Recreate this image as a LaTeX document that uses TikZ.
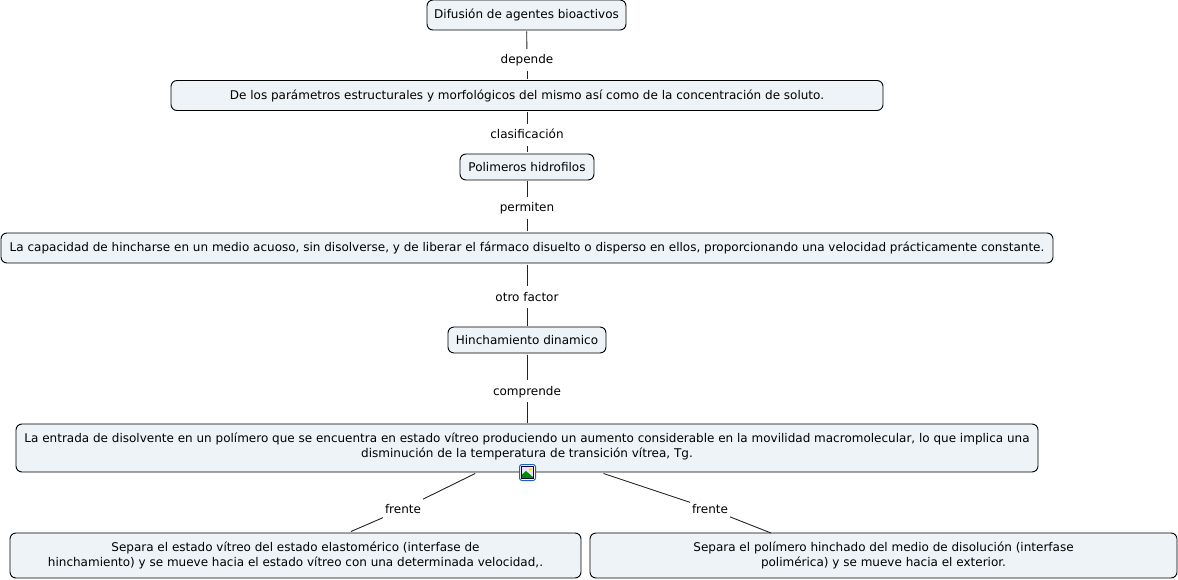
\documentclass[tikz,border=0pt]{standalone}
\usepackage{fontspec}
\setmainfont{DejaVu Sans}
\definecolor{boxfill}{HTML}{EDF3F6}
\definecolor{linkgray}{HTML}{222222}
\definecolor{iconblue}{HTML}{1F5FBF}

\begin{document}
\begin{tikzpicture}[
    x=1pt, y=-1pt,
    every node/.style={font=\fontsize{12}{15}\selectfont, text=black},
    concept/.style={draw=black, fill=boxfill, rounded corners=6pt, line width=0.9pt,
                    align=center, inner sep=0pt, outer sep=1.5pt},
    linkword/.style={inner sep=1pt, outer sep=2pt, text height=10pt, text depth=2pt, minimum height=18pt},
    link/.style={draw=linkgray, line width=0.9pt}
]
\useasboundingbox (0,0) rectangle (1178,580);

% Concepts, top to bottom
\node[concept, minimum width=199pt, minimum height=30pt] (difusion) at (526.5,15) {Difusión de agentes bioactivos};
\node[concept, minimum width=712pt, minimum height=30pt] (parametros) at (527,95.5) {De los parámetros estructurales y morfológicos del mismo así como de la concentración de soluto.};
\node[concept, minimum width=134pt, minimum height=26pt] (polimeros) at (527,167) {Polimeros hidrofilos};
\node[concept, minimum width=1052pt, minimum height=30pt] (capacidad) at (527,248) {La capacidad de hincharse en un medio acuoso, sin disolverse, y de liberar el fármaco disuelto o disperso en ellos, proporcionando una velocidad prácticamente constante.};
\node[concept, minimum width=158pt, minimum height=26pt] (hinchamiento) at (527,340) {Hinchamiento dinamico};
\node[concept, minimum width=1022pt, minimum height=48pt] (entrada) at (527,448) {La entrada de disolvente en un polímero que se encuentra en estado vítreo produciendo un aumento considerable en la movilidad macromolecular, lo que implica una\\disminución de la temperatura de transición vítrea, Tg.\\[-10pt]};
\node[concept, minimum width=571pt, minimum height=45pt] (vitreo) at (295.5,555.5) {Separa el estado vítreo del estado elastomérico (interfase de\\hinchamiento) y se mueve hacia el estado vítreo con una determinada velocidad,.};
\node[concept, minimum width=587pt, minimum height=45pt] (medio) at (883.5,555.5) {Separa el polímero hinchado del medio de disolución (interfase\\polimérica) y se mueve hacia el exterior.};
\coordinate (medio in) at (771,533);

% Link words
\node[linkword] (depende) at (527,60) {depende};
\node[linkword] (clasificacion) at (527,135) {clasificación};
\node[linkword] (permiten) at (527,208) {permiten};
\node[linkword] (otro) at (527,297) {otro factor};
\node[linkword] (comprende) at (527,391) {comprende};
\node[linkword, inner xsep=0pt] (frente1) at (403,509) {frente};
\node[linkword, inner xsep=0pt] (frente2) at (710,509) {frente};

% Connectors
\draw[link] (difusion) -- (depende);
\draw[link] (depende) -- (parametros);
\draw[link] (parametros) -- (clasificacion);
\draw[link] (clasificacion) -- (polimeros);
\draw[link] (polimeros) -- (permiten);
\draw[link] (permiten) -- (capacidad);
\draw[link] (capacidad) -- (otro);
\draw[link] (otro) -- (hinchamiento);
\draw[link] (hinchamiento) -- (comprende);
\draw[link] (comprende) -- (entrada);
\draw[link] (entrada) -- (frente1);
\draw[link] (frente1) -- (vitreo);
\draw[link] (entrada) -- (frente2);
\draw[link] (frente2) -- (medio in);

% Image icon on the lower edge
\node[draw=iconblue, fill=white, rounded corners=2.5pt, line width=1pt, minimum size=16pt, inner sep=0pt] (icono) at (527.5,472.5) {};
\fill[blue!10!white] (521.5,466.5) rectangle (533.5,478.5);
\fill[yellow!80!orange] (530.5,469.5) circle (1.6pt);
\fill[green!55!black] (521.5,478.5) -- (521.5,475) -- (526,471) -- (533.5,477.5) -- (533.5,478.5) -- cycle;
\draw[black!70!blue, line width=0.6pt] (521.5,466.5) rectangle (533.5,478.5);
\end{tikzpicture}
\end{document}
